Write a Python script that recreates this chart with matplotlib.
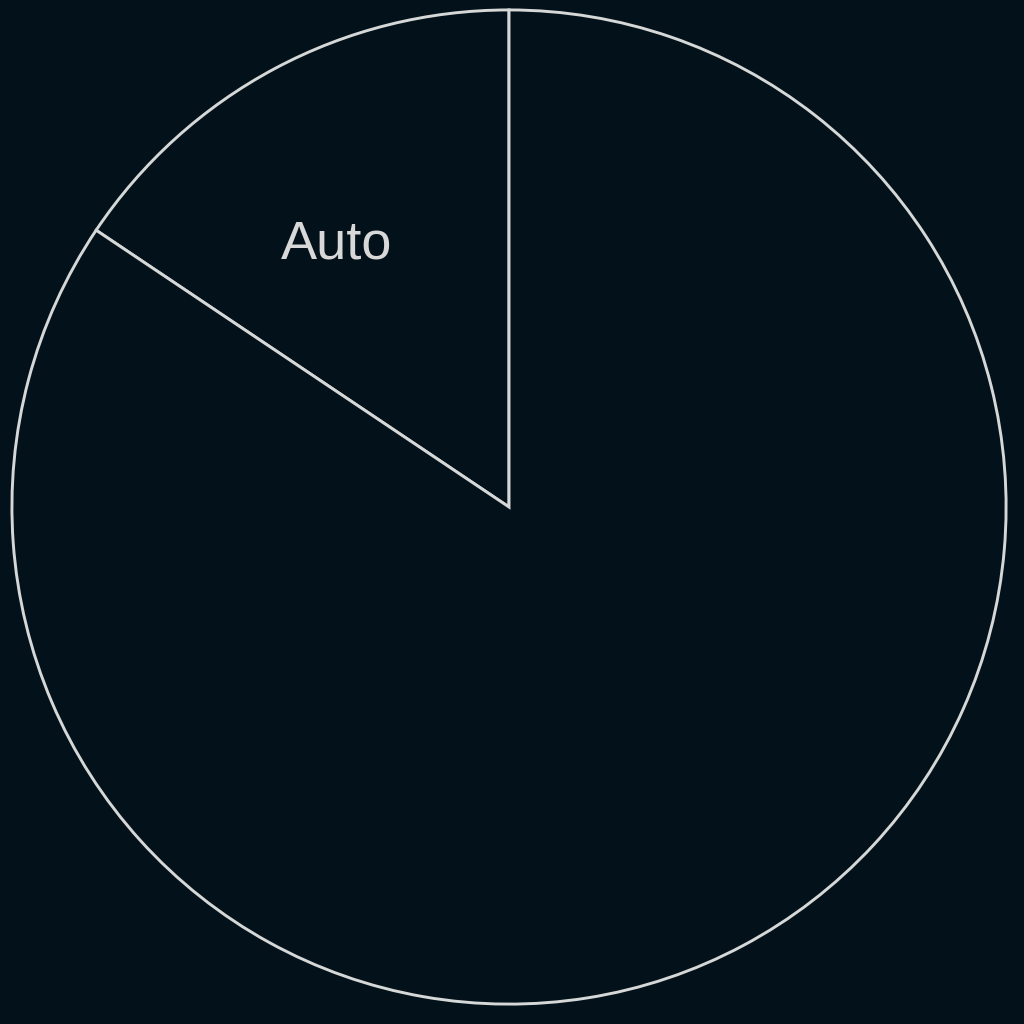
import numpy as np
import matplotlib.pyplot as plt

# slice data
labels = ["Auto", ""]
values = [15.6, 84.4]

bg = "#03121a"
edge = "#d6d8d8"

fig = plt.figure(figsize=(10.24, 10.24), dpi=100, facecolor=bg)
ax = fig.add_axes([0, 0, 1, 1])
ax.set_facecolor(bg)

wedges, texts = ax.pie(values, labels=labels, startangle=90, counterclock=True,
                       colors=[bg, bg], labeldistance=0.632,
                       wedgeprops=dict(edgecolor=edge, linewidth=2.1),
                       textprops=dict(color="#d8d8d8", fontsize=39,
                                      family="Liberation Sans"))

# nudge label toward where it sits in the reference
ang = np.deg2rad(123.4)
texts[0].set_position((0.632 * np.cos(ang), 0.632 * np.sin(ang)))
texts[0].set_ha("center")
texts[0].set_va("center")

ax.set_xlim(-1.024, 1.036)
ax.set_ylim(-1.040, 1.020)
ax.set_aspect("equal")
ax.axis("off")

fig.savefig("out.png", facecolor=bg)
